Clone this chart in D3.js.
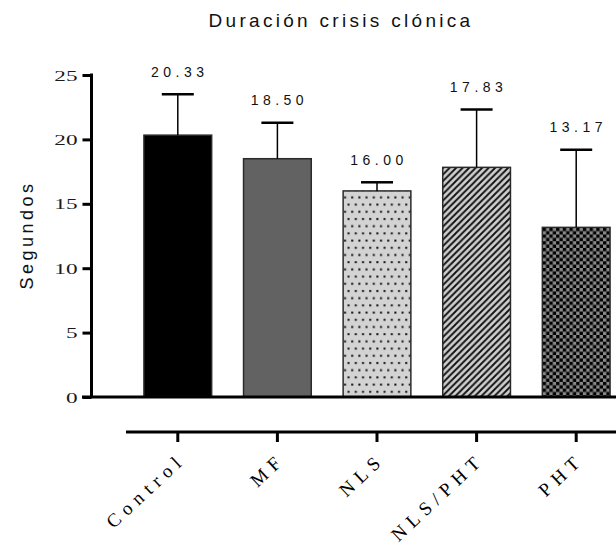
<!DOCTYPE html>
<html>
<head>
<meta charset="utf-8">
<script src="https://cdn.jsdelivr.net/npm/d3@7"></script>
<style>
  html, body { margin: 0; padding: 0; background: #fff; }
  svg { display: block; }
</style>
</head>
<body>
<svg id="chart" width="616" height="548"></svg>
<script>
// Data
const categories = ["Control", "MF", "NLS", "NLS/PHT", "PHT"];
const means = [20.33, 18.50, 16.00, 17.83, 13.17];
const sems = [3.17, 2.80, 0.67, 4.50, 6.03];
const valueLabels = ["20.33", "18.50", "16.00", "17.83", "13.17"];
const yTicks = [0, 5, 10, 15, 20, 25];

const svg = d3.select("#chart");
const W = 616, H = 548;

const y = d3.scaleLinear().domain([0, 25]).range([397, 75]);
const x = d3.scaleBand().domain(categories).range([128, 626])
  .paddingInner(0.32).paddingOuter(0.16);

// Fill patterns
const defs = svg.append("defs");

// dotted (NLS)
const pDots = defs.append("pattern").attr("id", "dots")
  .attr("patternUnits", "userSpaceOnUse").attr("width", 7.2).attr("height", 14.4);
pDots.append("rect").attr("width", 7.2).attr("height", 14.4).attr("fill", "#d3d3d3");
pDots.append("rect").attr("x", 2).attr("y", 2).attr("width", 2).attr("height", 2).attr("fill", "#111");
pDots.append("rect").attr("x", 5.6).attr("y", 9.2).attr("width", 2).attr("height", 2).attr("fill", "#111");
pDots.append("rect").attr("x", -1.6).attr("y", 9.2).attr("width", 2).attr("height", 2).attr("fill", "#111");

// diagonal hatch (NLS/PHT)
const pDiag = defs.append("pattern").attr("id", "diag")
  .attr("patternUnits", "userSpaceOnUse").attr("width", 6.5).attr("height", 6.5);
pDiag.append("rect").attr("width", 6.5).attr("height", 6.5).attr("fill", "#d0d0d0");
pDiag.append("path").attr("d", "M-1.625,1.625 L1.625,-1.625 M0,6.5 L6.5,0 M4.875,8.125 L8.125,4.875")
  .attr("stroke", "#111").attr("stroke-width", 1.9);

// checkerboard (PHT)
const c = 3.35;
const pChk = defs.append("pattern").attr("id", "checker")
  .attr("patternUnits", "userSpaceOnUse").attr("width", 2 * c).attr("height", 2 * c);
pChk.append("rect").attr("width", 2 * c).attr("height", 2 * c).attr("fill", "#8a8a8a");
pChk.append("rect").attr("width", c).attr("height", c).attr("fill", "#000");
pChk.append("rect").attr("x", c).attr("y", c).attr("width", c).attr("height", c).attr("fill", "#000");

const fills = ["#000000", "#626262", "url(#dots)", "url(#diag)", "url(#checker)"];

// Title
svg.append("text")
  .attr("x", 341).attr("y", 27)
  .attr("text-anchor", "middle")
  .attr("font-family", "Arial, 'Liberation Sans', sans-serif")
  .attr("font-size", 19)
  .attr("letter-spacing", 3.3)
  .attr("fill", "#111")
  .text("Duración crisis clónica");

// Y-axis label
svg.append("text")
  .attr("transform", "translate(33,235) rotate(-90)")
  .attr("text-anchor", "middle")
  .attr("font-family", "Arial, 'Liberation Sans', sans-serif")
  .attr("font-size", 18)
  .attr("letter-spacing", 3.5)
  .attr("fill", "#111")
  .text("Segundos");

// Y axis
const yAxisG = svg.append("g").attr("transform", "translate(91.5,0)");
yAxisG.call(d3.axisLeft(y).tickValues(yTicks).tickSize(9).tickFormat(d3.format("d")));
yAxisG.select(".domain").attr("stroke", "#000").attr("stroke-width", 3)
  .attr("d", `M0,${y(25) - 1.5}V${y(0)}`);
yAxisG.selectAll(".tick line").attr("stroke", "#000").attr("stroke-width", 3);
yAxisG.selectAll(".tick text").remove();
yAxisG.selectAll(".tick").append("text")
  .attr("transform", "translate(-14,5) scale(1.55,1)")
  .attr("text-anchor", "end")
  .attr("font-family", "'Liberation Serif', 'Times New Roman', serif")
  .attr("font-size", 15)
  .attr("fill", "#1a1a1a")
  .text(d => d);

// Bars
const bars = svg.append("g");
bars.selectAll("rect").data(categories).join("rect")
  .attr("x", d => x(d))
  .attr("y", (d, i) => y(means[i]))
  .attr("width", x.bandwidth())
  .attr("height", (d, i) => y(0) - y(means[i]))
  .attr("fill", (d, i) => fills[i])
  .attr("stroke", "#2a2a2a")
  .attr("stroke-width", 1.5);

// Error bars (upper only) and value labels
const err = svg.append("g");
categories.forEach((d, i) => {
  const cx = x(d) + x.bandwidth() / 2;
  err.append("line")
    .attr("x1", cx).attr("x2", cx)
    .attr("y1", y(means[i])).attr("y2", y(means[i] + sems[i]))
    .attr("stroke", "#000").attr("stroke-width", 1.5);
  err.append("line")
    .attr("x1", cx - 16).attr("x2", cx + 16)
    .attr("y1", y(means[i] + sems[i])).attr("y2", y(means[i] + sems[i]))
    .attr("stroke", "#000").attr("stroke-width", 2.5);
  err.append("text")
    .attr("x", cx + 2).attr("y", y(means[i] + sems[i]) - 17.5)
    .attr("text-anchor", "middle")
    .attr("font-family", "Arial, 'Liberation Sans', sans-serif")
    .attr("font-size", 14)
    .attr("letter-spacing", 4.5)
    .attr("fill", "#111")
    .text(valueLabels[i]);
});

// Baseline at zero
svg.append("line")
  .attr("x1", 82).attr("x2", W)
  .attr("y1", y(0)).attr("y2", y(0))
  .attr("stroke", "#000").attr("stroke-width", 3);

// Category axis
const xAxisG = svg.append("g").attr("transform", "translate(0,432)");
xAxisG.call(d3.axisBottom(x).tickSize(10));
xAxisG.select(".domain").attr("stroke", "#000").attr("stroke-width", 3)
  .attr("d", `M126,0H${W}`);
xAxisG.selectAll(".tick line").attr("stroke", "#000").attr("stroke-width", 3);
xAxisG.selectAll(".tick text").remove();
xAxisG.selectAll(".tick").append("text")
  .attr("transform", "translate(9,29) rotate(-43)")
  .attr("text-anchor", "end")
  .attr("font-family", "'Liberation Serif', 'Times New Roman', serif")
  .attr("font-size", 19)
  .attr("letter-spacing", 6)
  .attr("fill", "#000")
  .text(d => d);
</script>
</body>
</html>
